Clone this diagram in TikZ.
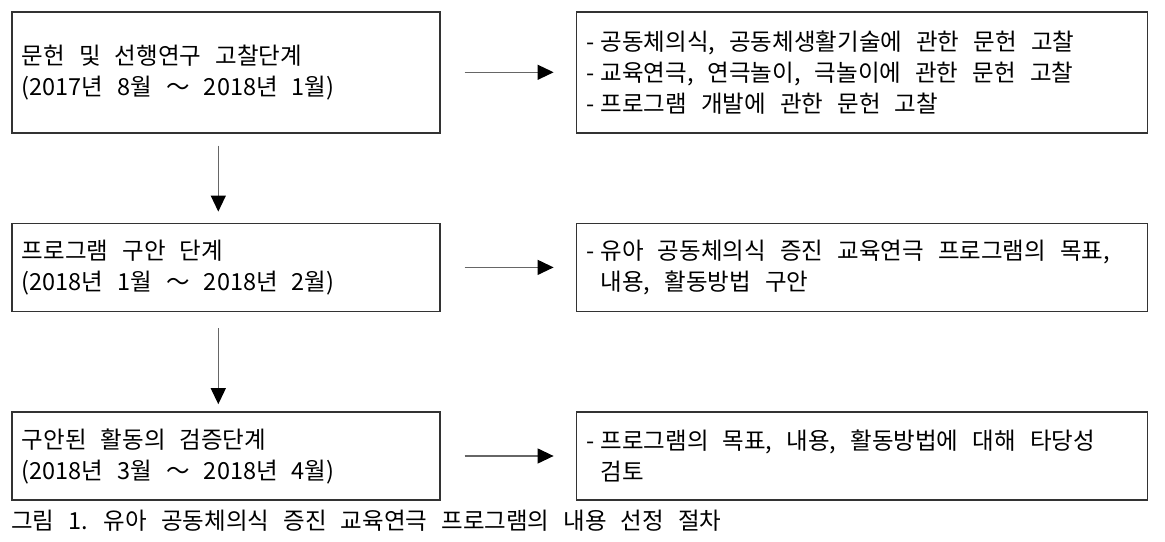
\documentclass[tikz,border=0pt]{standalone}
\usepackage{fontspec}
\setmainfont{Noto Sans CJK KR}
\usetikzlibrary{arrows.meta,positioning}
\usepackage{xcolor}
\definecolor{LineGray}{HTML}{333333}
\definecolor{ShaftGray}{HTML}{666666}
\newcommand{\itemdash}{-\hspace{6bp}}
\newcommand{\itemhang}{\phantom{\itemdash}}

\begin{document}
\begin{tikzpicture}[
      every node/.style={font=\fontsize{23.5bp}{31bp}\selectfont,
                         execute at begin node={\spaceskip=.6em\relax}},
      stage/.style={draw=LineGray, line width=1.6bp, minimum width=428bp, text width=408bp,
                    inner xsep=10bp, align=left},
      note/.style={stage, minimum width=571bp, text width=551bp},
      flow/.style={draw=ShaftGray, line width=1.2bp,
                   -{Triangle[length=16bp, width=15bp, color=black]}},
      node distance=135bp
    ]
  \useasboundingbox (0,0) rectangle (1165bp,542bp);

  % stages on the left
  \node[stage, minimum height=121bp, anchor=north west] (lit) at (11bp,531bp)
       {문헌 및 선행연구 고찰단계\\(2017년 8월 ～ 2018년 1월)};
  \node[stage, minimum height=88bp, below=89bp of lit] (draft)
       {프로그램 구안 단계\\(2018년 1월 ～ 2018년 2월)};
  \node[stage, minimum height=88bp, below=99bp of draft] (check)
       {구안된 활동의 검증단계\\(2018년 3월 ～ 2018년 4월)};

  % notes on the right
  \node[note, minimum height=121bp, right=of lit] (litnote)
       {\itemdash 공동체의식, 공동체생활기술에 관한 문헌 고찰\\
        \itemdash 교육연극, 연극놀이, 극놀이에 관한 문헌 고찰\\
        \itemdash 프로그램 개발에 관한 문헌 고찰};
  \node[note, minimum height=88bp, right=of draft] (draftnote)
       {\itemdash 유아 공동체의식 증진 교육연극 프로그램의 목표,\\
        \itemhang 내용, 활동방법 구안};
  \node[note, minimum height=88bp, right=of check] (checknote)
       {\itemdash 프로그램의 목표, 내용, 활동방법에 대해 타당성\\
        \itemhang 검토};

  \node[anchor=west, inner sep=0pt] (caption) at (11bp,21bp)
       {그림 1. 유아 공동체의식 증진 교육연극 프로그램의 내용 선정 절차};

  % connectors
  \draw[flow, shorten <=24bp, shorten >=22bp] (lit) -- (litnote);
  \draw[flow, shorten <=24bp, shorten >=22bp] (draft) -- (draftnote);
  \draw[flow, shorten <=24bp, shorten >=22bp] (check) -- (checknote);
  \draw[flow, shorten <=12bp, shorten >=11bp] ([xshift=-7.5bp]lit.south) -- ([xshift=-7.5bp]draft.north);
  \draw[flow, shorten <=16bp, shorten >=7bp] ([xshift=-7.5bp]draft.south) -- ([xshift=-7.5bp]check.north);
\end{tikzpicture}
\end{document}
